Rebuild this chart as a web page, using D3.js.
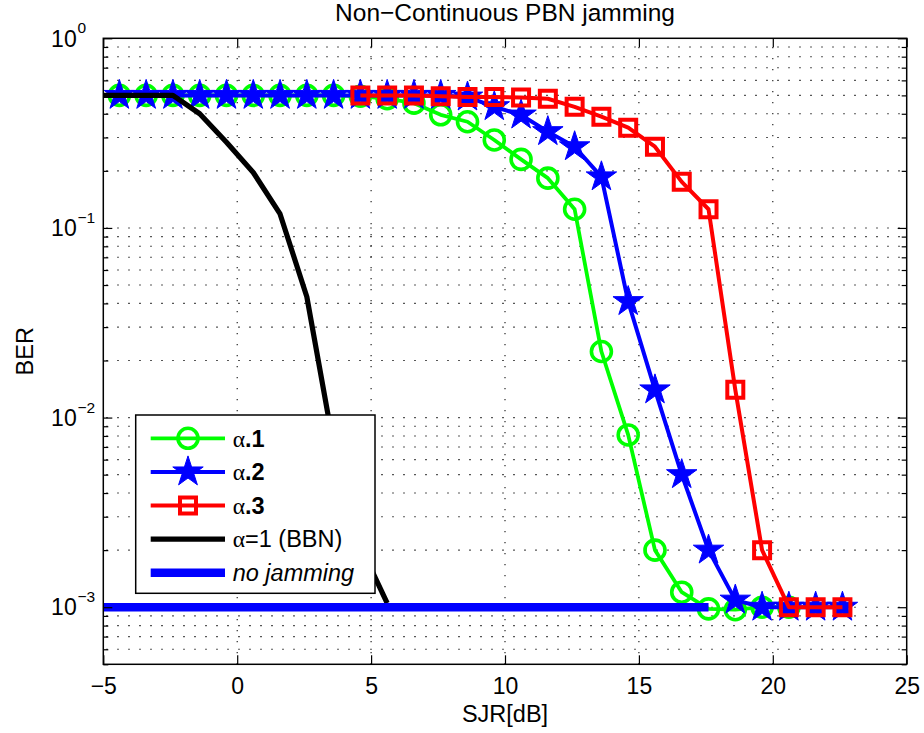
<!DOCTYPE html>
<html>
<head>
<meta charset="utf-8">
<script src="https://cdn.jsdelivr.net/npm/d3@7"></script>
<style>
  body { margin: 0; background: #fff; }
  text { font-family: "Liberation Sans", Arial, Helvetica, sans-serif; fill: #000; }
</style>
</head>
<body>
<svg id="chart" width="924" height="733"></svg>
<script>
// ---- data: bit error rate against signal-to-jamming ratio ----
const sjrAlpha1 = [-4.4, -3.4, -2.4, -1.4, -0.4, 0.6, 1.6, 2.6, 3.6, 4.6, 5.6, 6.6, 7.6, 8.6, 9.6, 10.6, 11.6, 12.6, 13.6, 14.6, 15.6, 16.6, 17.6, 18.6, 19.6, 20.6];
const berAlpha1 = [0.5, 0.5, 0.5, 0.5, 0.5, 0.5, 0.5, 0.5, 0.5, 0.495, 0.48, 0.455, 0.395, 0.363, 0.291, 0.23, 0.183, 0.1255, 0.0223, 0.0081, 0.002, 0.0012, 0.00098, 0.00097, 0.001, 0.001];

const sjrAlpha2 = [-4.4, -3.4, -2.4, -1.4, -0.4, 0.6, 1.6, 2.6, 3.6, 4.6, 5.6, 6.6, 7.6, 8.6, 9.6, 10.6, 11.6, 12.6, 13.6, 14.6, 15.6, 16.6, 17.6, 18.6, 19.6, 20.6, 21.6, 22.6];
const berAlpha2 = [0.5, 0.5, 0.5, 0.5, 0.5, 0.5, 0.5, 0.5, 0.5, 0.5, 0.5, 0.5, 0.5, 0.49, 0.436, 0.394, 0.322, 0.268, 0.186, 0.0409, 0.014, 0.005, 0.002, 0.00109, 0.001, 0.001, 0.001, 0.001];

const sjrAlpha3 = [4.6, 5.6, 6.6, 7.6, 8.6, 9.6, 10.6, 11.6, 12.6, 13.6, 14.6, 15.6, 16.6, 17.6, 18.6, 19.6, 20.6, 21.6, 22.6];
const berAlpha3 = [0.5, 0.5, 0.5, 0.495, 0.49, 0.49, 0.488, 0.48, 0.435, 0.386, 0.338, 0.268, 0.175, 0.1255, 0.014, 0.002, 0.001, 0.001, 0.001];

const sjrBBN = [-5.4, -4.4, -3.4, -2.4, -1.4, -0.4, 0.6, 1.6, 2.6, 3.6, 4.6, 5.6];
const berBBN = [0.5, 0.5, 0.5, 0.5, 0.4, 0.283, 0.196, 0.1185, 0.0434, 0.0071, 0.0021, 0.00105];

const sjrNoJam = [-5.4, 17.6];
const berNoJam = [0.001, 0.001];

const xTicks = [-5, 0, 5, 10, 15, 20, 25];
const yTickExponents = [0, -1, -2, -3];

const chartTitle = "Non\u2212Continuous PBN jamming";
const xLabel = "SJR[dB]";
const yLabel = "BER";

// ---- layout ----
const svg = d3.select("#chart");
const plot = { left: 103.3, right: 906.7, top: 38.3, bottom: 664.3 };

const x = d3.scaleLinear().domain([-5, 25]).range([plot.left, plot.right]);
const y = d3.scaleLog().domain([5e-4, 1]).range([plot.bottom, plot.top]);

const yMajor = yTickExponents.map(e => Math.pow(10, e));
const yMinor = [];
[-4, -3, -2, -1].forEach(e => {
  for (let m = 2; m <= 9; m++) {
    const v = m * Math.pow(10, e);
    if (v >= 5e-4 && v < 1) yMinor.push(v);
  }
});

svg.append("defs").append("clipPath").attr("id", "plotClip")
  .append("rect")
  .attr("x", plot.left).attr("y", plot.top)
  .attr("width", plot.right - plot.left).attr("height", plot.bottom - plot.top);

// ---- dotted grid ----
const grid = svg.append("g").attr("stroke", "#111").attr("stroke-width", 1.1)
  .attr("stroke-dasharray", "1.4,9.6").attr("fill", "none");
xTicks.filter(t => t > -5 && t < 25).forEach(t => {
  grid.append("line").attr("x1", x(t)).attr("x2", x(t))
    .attr("y1", plot.bottom).attr("y2", plot.top);
});
yMajor.concat(yMinor).filter(v => v > 5e-4 && v < 1).forEach(v => {
  grid.append("line").attr("x1", plot.left + 3).attr("x2", plot.right)
    .attr("y1", y(v)).attr("y2", y(v));
});

// ---- series ----
const line = d3.line().x(d => x(d[0])).y(d => y(d[1]));
const zip = (xs, ys) => xs.map((v, i) => [v, ys[i]]);

const circleSym = d3.symbol(d3.symbolCircle, Math.PI * 10 * 10);
const starSym = d3.symbol(d3.symbolStar, (16 * 16) / 0.8908130915292852);
const squareSym = d3.symbol(d3.symbolSquare, 16 * 16);

const series = [
  { pts: zip(sjrAlpha1, berAlpha1), color: "#00ff00", width: 3.8, marker: circleSym, fill: "none", mw: 3.6 },
  { pts: zip(sjrAlpha2, berAlpha2), color: "#0000ff", width: 4, marker: starSym, fill: "#0000ff", mw: 1 },
  { pts: zip(sjrAlpha3, berAlpha3), color: "#ff0000", width: 4, marker: squareSym, fill: "none", mw: 4 },
  { pts: zip(sjrBBN, berBBN), color: "#000000", width: 5.2, marker: null },
  { pts: zip(sjrNoJam, berNoJam), color: "#0000ff", width: 8.5, marker: null }
];

const dataG = svg.append("g");
series.forEach(s => {
  dataG.append("path").datum(s.pts)
    .attr("d", line)
    .attr("clip-path", "url(#plotClip)")
    .attr("fill", "none")
    .attr("stroke", s.color)
    .attr("stroke-width", s.width)
    .attr("stroke-linejoin", "round");
  if (s.marker) {
    dataG.append("g").selectAll("path").data(s.pts).join("path")
      .attr("transform", d => `translate(${x(d[0])},${y(d[1])})`)
      .attr("d", s.marker)
      .attr("fill", s.fill)
      .attr("stroke", s.color)
      .attr("stroke-width", s.mw);
  }
});

// ---- axes (ticks point inward) ----
const axisStyle = g => {
  g.selectAll(".domain").remove();
  g.selectAll(".tick line").attr("stroke", "#000").attr("stroke-width", 1.2);
};

svg.append("g").attr("transform", `translate(0,${plot.bottom})`)
  .call(d3.axisBottom(x).tickValues(xTicks).tickSizeInner(-9).tickSizeOuter(0).tickPadding(13)
    .tickFormat(d => d < 0 ? "\u2212" + Math.abs(d) : String(d)))
  .call(axisStyle)
  .call(g => g.selectAll(".tick text").attr("font-size", 23).attr("font-family", "Liberation Sans, Arial, sans-serif").attr("fill", "#000"));

svg.append("g").attr("transform", `translate(0,${plot.top})`)
  .call(d3.axisTop(x).tickValues(xTicks).tickSizeInner(-9).tickSizeOuter(0).tickFormat(""))
  .call(axisStyle);

[[d3.axisLeft, plot.left], [d3.axisRight, plot.right]].forEach(([ax, pos]) => {
  svg.append("g").attr("transform", `translate(${pos},0)`)
    .call(ax(y).tickValues(yMajor).tickSizeInner(-9).tickSizeOuter(0).tickFormat(""))
    .call(axisStyle);
  svg.append("g").attr("transform", `translate(${pos},0)`)
    .call(ax(y).tickValues(yMinor).tickSizeInner(-5).tickSizeOuter(0).tickFormat(""))
    .call(axisStyle);
});

// y tick labels as 10 with a superscript exponent
const yLab = svg.append("g");
yTickExponents.forEach(e => {
  const ty = y(Math.pow(10, e));
  yLab.append("text").attr("x", 76.7).attr("y", ty + 8.2)
    .attr("text-anchor", "end").attr("font-size", 23).text("10");
  yLab.append("text").attr("x", 77.5).attr("y", ty - 5)
    .attr("font-size", 15.5).text(e === 0 ? "0" : "\u2212" + Math.abs(e));
});

// box
svg.append("rect")
  .attr("x", plot.left).attr("y", plot.top)
  .attr("width", plot.right - plot.left).attr("height", plot.bottom - plot.top)
  .attr("fill", "none").attr("stroke", "#000").attr("stroke-width", 1.5);

// ---- labels ----
svg.append("text").attr("x", (plot.left + plot.right) / 2).attr("y", 21)
  .attr("text-anchor", "middle").attr("font-size", 24.5).text(chartTitle);
svg.append("text").attr("x", (plot.left + plot.right) / 2).attr("y", 722)
  .attr("text-anchor", "middle").attr("font-size", 23.5).text(xLabel);
svg.append("text")
  .attr("transform", `translate(33,${(plot.top + plot.bottom) / 2}) rotate(-90)`)
  .attr("text-anchor", "middle").attr("font-size", 23.5).text(yLabel);

// ---- legend ----
const legendItems = [
  { label: [["\u03b1", "serif", "normal", "normal"], [".1", "sans", "bold", "normal"]], s: series[0] },
  { label: [["\u03b1", "serif", "normal", "normal"], [".2", "sans", "bold", "normal"]], s: series[1] },
  { label: [["\u03b1", "serif", "normal", "normal"], [".3", "sans", "bold", "normal"]], s: series[2] },
  { label: [["\u03b1", "serif", "normal", "normal"], ["=1 (BBN)", "sans", "normal", "normal"]], s: series[3] },
  { label: [["no jamming", "sans", "normal", "italic"]], s: series[4] }
];
const lg = svg.append("g");
lg.append("rect").attr("x", 135.7).attr("y", 415).attr("width", 239.3).attr("height", 178.3)
  .attr("fill", "#fff").attr("stroke", "#000").attr("stroke-width", 1.5);
legendItems.forEach((it, i) => {
  const cy = 438.3 + i * 33.6;
  lg.append("line").attr("x1", 150.7).attr("x2", 225).attr("y1", cy).attr("y2", cy)
    .attr("stroke", it.s.color).attr("stroke-width", it.s.width);
  if (it.s.marker) {
    lg.append("path").attr("transform", `translate(188,${cy})`).attr("d", it.s.marker)
      .attr("fill", it.s.fill).attr("stroke", it.s.color).attr("stroke-width", it.s.mw);
  }
  const t = lg.append("text").attr("x", 232.7).attr("y", cy + 8.3).attr("font-size", 23.5);
  it.label.forEach(([str, fam, wt, st]) => {
    t.append("tspan")
      .attr("font-family", fam === "serif" ? "Liberation Serif, Times New Roman, serif" : "Liberation Sans, Arial, sans-serif")
      .attr("font-weight", wt).attr("font-style", st).text(str);
  });
});
</script>
</body>
</html>
